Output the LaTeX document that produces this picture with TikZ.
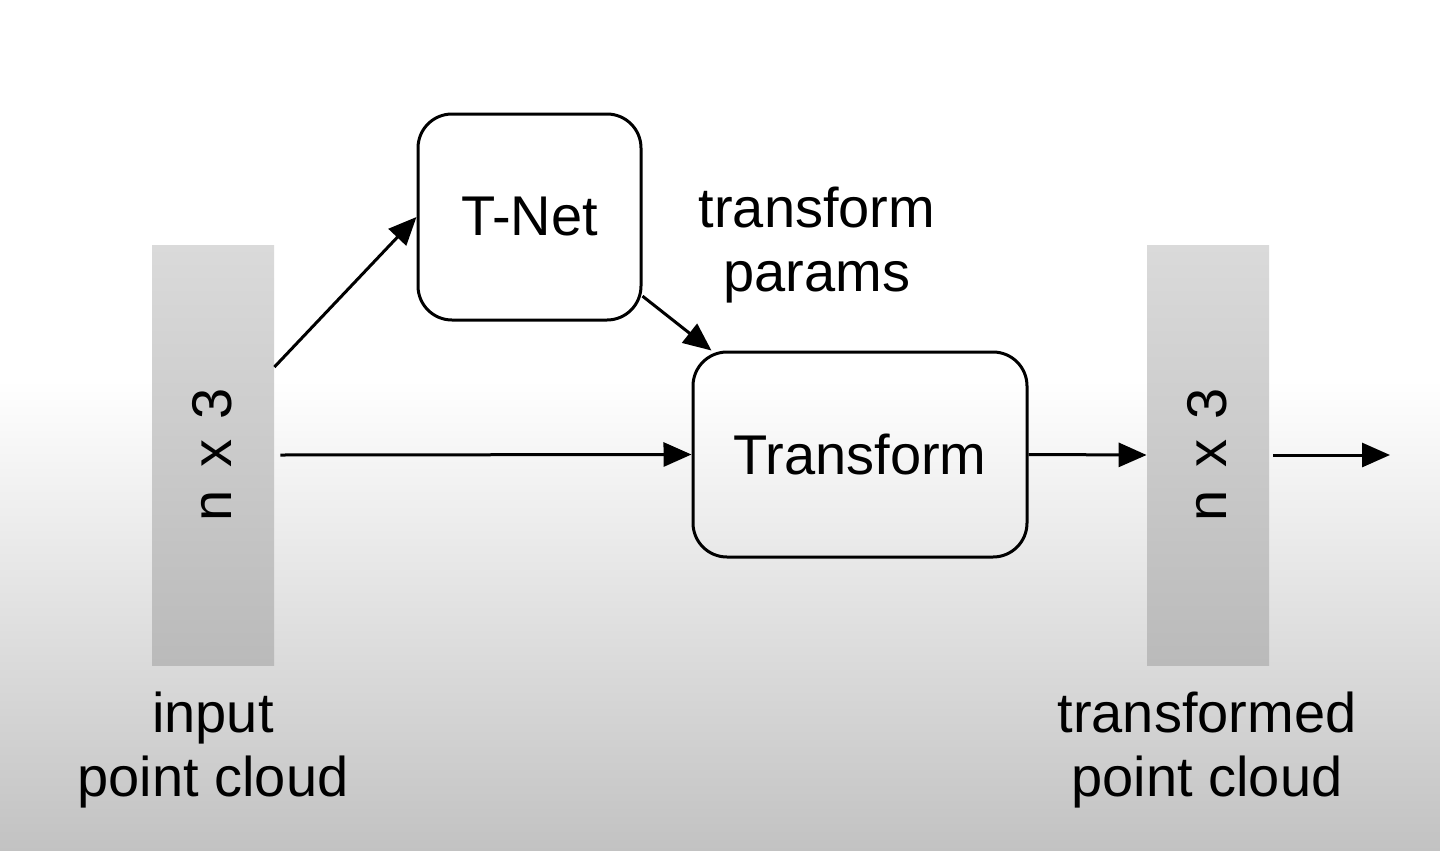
\documentclass[tikz,border=0pt]{standalone}
\usepackage{fontspec}
\setmainfont{Liberation Sans}
\usetikzlibrary{arrows.meta}
\definecolor{barTop}{RGB}{218,218,218}
\definecolor{barBot}{RGB}{186,186,186}
\definecolor{bgBot}{RGB}{194,194,194}
\tikzset{
	blk/.style={draw, line width=1.5pt, rounded corners=17pt, inner sep=0pt, font=\fontsize{28}{32}\selectfont},
	cloud/.style={inner sep=0pt, minimum width=61pt, minimum height=210pt, top color=barTop, bottom color=barBot},
	lbl/.style={align=center, inner sep=0pt, font=\fontsize{28}{32}\selectfont},
	arr/.style={line width=1.5pt, -{Triangle[length=14pt,width=12pt]}}
}
\newcommand{\dimtxt}{n\hspace{4pt} x\hspace{2pt} 3}
\begin{document}
\begin{tikzpicture}[x=0.5pt,y=0.5pt,yscale=-1,xscale=1]
	\fill [white] (0,0) rectangle (1440,851);
	\shade [top color=white, bottom color=bgBot] (0,380) rectangle (1440,851);
	\node [cloud] (inpc) at (213,455) {};
	\node [lbl, rotate=90] (indim) at (212,455) {\dimtxt};
	\node [cloud] (outpc) at (1208,455) {};
	\node [lbl, rotate=90] (outdim) at (1207,455) {\dimtxt};
	\node [blk, minimum width=111.5pt, minimum height=103pt] (tnet) at (529.5,217) {T-Net};
	\node [blk, minimum width=167pt, minimum height=102.5pt] (trans) at (860,454.5) {Transform};
	\node [lbl] (parlbl) at (817,245) {transform\\params};
	\node [lbl] (inlbl) at (213,750) {input\\point cloud};
	\node [lbl] (outlbl) at (1207,750) {transformed\\point cloud};
	\coordinate (out) at (1390,455);
	\draw [arr] (inpc.east |- 0,367) -- (tnet.west);
	\draw [arr] ([xshift=3pt]inpc.east) -- (trans.west);
	\draw [arr] (tnet.-35) -- (trans.145);
	\draw [arr] (trans.east) -- (outpc.west);
	\draw [arr] ([xshift=2pt]outpc.east) -- (out);
\end{tikzpicture}
\end{document}
